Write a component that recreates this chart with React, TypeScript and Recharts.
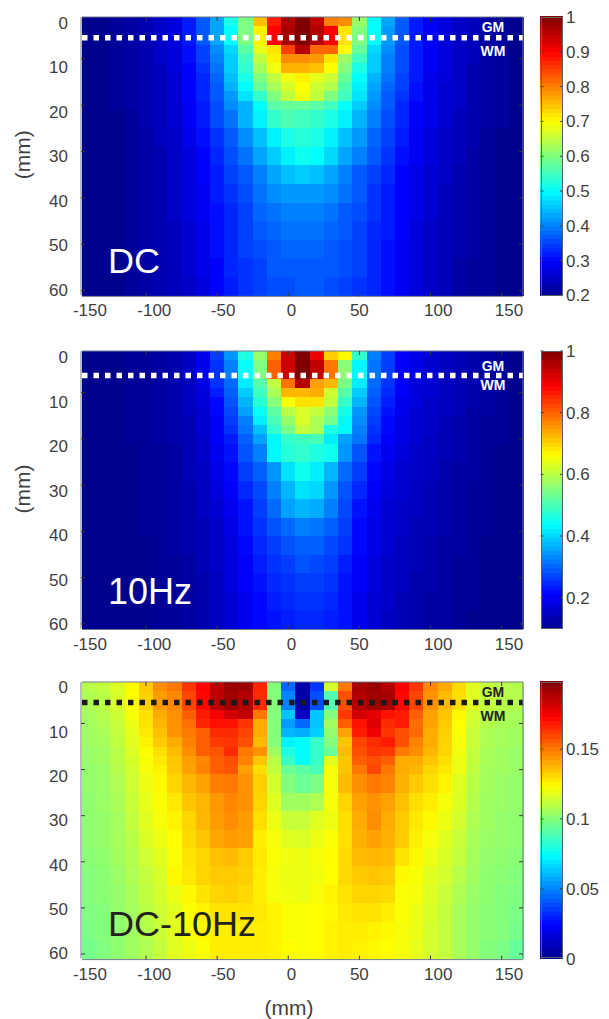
import React from 'react';
import { ScatterChart, Scatter, XAxis, YAxis, ReferenceLine } from 'recharts';

// column centres (mm) and row edges (mm), the image has 10 mm columns
const columns = [-140, -130, -120, -110, -100, -90, -80, -70, -60, -50, -40, -30, -20, -10, 0, 10, 20, 30, 40, 50, 60, 70, 80, 90, 100, 110, 120, 130, 140, 150, 160];
const rowEdges = [1, 3, 7, 9, 11, 13, 15, 17, 19, 21, 25, 29, 33, 37, 41, 45, 49, 53, 57, 61];

const xMarks = [-100, -50, 0, 50, 100, 150];
const yMarks = [10, 20, 30, 40, 50, 60];
const xLabels = [-150, -100, -50, 0, 50, 100, 150];
const yLabels = [0, 10, 20, 30, 40, 50, 60];

const dcValues = [
  [.2,.2,.21,.22,.23,.25,.27,.32,.37,.43,.52,.6,.75,.88,.96,1,.95,.8,.79,.62,.5,.43,.37,.32,.29,.27,.25,.24,.22,.21,.2],
  [.2,.2,.21,.22,.23,.25,.27,.32,.37,.43,.5,.6,.71,.9,.97,1,.96,.9,.72,.6,.5,.42,.37,.32,.29,.27,.25,.24,.22,.21,.2],
  [.2,.2,.21,.22,.23,.25,.27,.31,.35,.41,.47,.57,.68,.72,.85,.96,.82,.82,.7,.58,.47,.41,.36,.32,.29,.27,.25,.24,.22,.21,.2],
  [.2,.2,.21,.22,.23,.25,.27,.31,.35,.4,.46,.55,.65,.71,.79,.79,.78,.72,.62,.55,.46,.4,.36,.32,.29,.27,.25,.24,.22,.21,.2],
  [.2,.2,.21,.22,.23,.24,.27,.3,.34,.39,.46,.54,.63,.69,.76,.76,.75,.7,.6,.52,.46,.4,.36,.32,.29,.27,.25,.23,.22,.21,.2],
  [.2,.2,.21,.22,.23,.24,.26,.3,.33,.38,.45,.52,.6,.65,.69,.71,.68,.66,.58,.5,.44,.39,.35,.32,.28,.27,.25,.23,.22,.21,.2],
  [.2,.2,.21,.22,.23,.24,.26,.3,.33,.37,.44,.5,.58,.63,.67,.7,.66,.64,.56,.49,.43,.38,.35,.31,.28,.26,.25,.23,.22,.21,.2],
  [.2,.2,.21,.22,.23,.24,.26,.3,.33,.37,.42,.48,.54,.6,.65,.69,.65,.6,.55,.48,.42,.37,.34,.31,.28,.26,.25,.23,.22,.21,.2],
  [.2,.2,.21,.22,.23,.24,.26,.29,.32,.36,.41,.44,.5,.57,.58,.58,.57,.55,.5,.46,.41,.37,.33,.3,.28,.26,.25,.23,.22,.21,.2],
  [.2,.2,.2,.21,.23,.24,.26,.29,.32,.36,.39,.44,.49,.54,.56,.55,.54,.52,.49,.44,.4,.36,.33,.3,.28,.26,.24,.23,.22,.21,.2],
  [.2,.2,.2,.21,.22,.24,.25,.28,.31,.34,.37,.41,.45,.49,.52,.53,.52,.49,.45,.42,.38,.35,.32,.29,.27,.25,.24,.23,.21,.2,.2],
  [.2,.2,.2,.21,.22,.23,.25,.27,.3,.33,.36,.39,.43,.46,.49,.51,.5,.47,.43,.4,.37,.34,.31,.29,.27,.25,.24,.22,.21,.2,.2],
  [.2,.2,.2,.21,.22,.23,.25,.27,.3,.32,.35,.37,.4,.43,.45,.46,.45,.43,.4,.37,.35,.33,.3,.28,.26,.25,.23,.22,.21,.2,.2],
  [.2,.2,.2,.21,.22,.23,.25,.27,.29,.32,.34,.36,.39,.41,.42,.42,.42,.41,.39,.37,.34,.32,.3,.28,.26,.24,.23,.22,.21,.2,.2],
  [.2,.2,.2,.21,.22,.23,.25,.27,.29,.31,.33,.35,.38,.39,.4,.4,.4,.39,.37,.36,.34,.32,.3,.28,.26,.24,.23,.22,.21,.2,.2],
  [.2,.2,.2,.21,.22,.23,.24,.26,.28,.31,.33,.35,.37,.38,.39,.39,.39,.38,.37,.35,.33,.32,.3,.27,.25,.24,.23,.22,.21,.2,.2],
  [.2,.2,.2,.21,.22,.23,.24,.26,.28,.31,.33,.35,.36,.37,.38,.38,.38,.37,.36,.35,.33,.31,.29,.27,.25,.24,.23,.22,.21,.2,.2],
  [.2,.2,.2,.21,.22,.23,.24,.26,.28,.3,.33,.34,.35,.37,.37,.37,.37,.37,.36,.35,.33,.31,.29,.27,.25,.24,.22,.21,.21,.2,.2],
  [.2,.2,.2,.21,.22,.23,.24,.25,.27,.3,.32,.34,.35,.36,.36,.37,.37,.36,.35,.34,.33,.31,.29,.27,.25,.24,.22,.21,.21,.2,.2],
];

const tenHzValues = [
  [.08,.08,.08,.09,.09,.1,.11,.13,.18,.25,.33,.45,.56,.77,.93,1,.9,.7,.66,.47,.31,.25,.19,.17,.15,.13,.12,.11,.1,.09,.08],
  [.08,.08,.08,.09,.09,.1,.11,.13,.18,.24,.31,.43,.54,.8,.93,1,.94,.78,.55,.42,.3,.25,.19,.17,.15,.13,.12,.11,.1,.09,.08],
  [.08,.08,.08,.09,.09,.1,.11,.13,.17,.24,.29,.41,.5,.6,.78,.95,.74,.72,.53,.41,.29,.24,.19,.16,.15,.13,.12,.11,.1,.09,.08],
  [.08,.08,.08,.09,.09,.1,.11,.13,.16,.22,.28,.38,.48,.58,.72,.72,.73,.61,.5,.38,.28,.23,.19,.16,.15,.13,.12,.11,.1,.09,.08],
  [.08,.08,.08,.09,.09,.1,.11,.13,.16,.2,.27,.36,.46,.55,.65,.68,.68,.6,.47,.36,.27,.22,.18,.16,.14,.13,.12,.11,.1,.09,.08],
  [.08,.08,.08,.09,.09,.1,.11,.13,.15,.2,.26,.34,.43,.51,.59,.62,.6,.55,.44,.33,.26,.21,.18,.15,.14,.13,.12,.1,.1,.09,.08],
  [.08,.08,.08,.09,.09,.1,.11,.12,.15,.19,.25,.31,.41,.49,.56,.62,.58,.53,.42,.32,.25,.2,.17,.15,.14,.12,.11,.1,.09,.09,.08],
  [.08,.08,.08,.09,.09,.1,.11,.12,.15,.19,.24,.3,.37,.47,.53,.6,.58,.45,.42,.31,.24,.2,.17,.15,.14,.12,.11,.1,.09,.09,.08],
  [.08,.08,.08,.09,.09,.1,.11,.12,.14,.19,.22,.28,.34,.42,.47,.48,.49,.41,.34,.3,.23,.19,.17,.15,.13,.12,.11,.1,.09,.09,.08],
  [.08,.08,.08,.08,.09,.09,.1,.12,.14,.18,.21,.27,.31,.42,.46,.47,.45,.44,.33,.27,.21,.18,.16,.14,.13,.12,.11,.1,.09,.08,.08],
  [.08,.08,.08,.08,.09,.09,.1,.12,.13,.17,.2,.25,.28,.33,.4,.44,.41,.36,.29,.25,.2,.17,.15,.14,.13,.11,.1,.1,.09,.08,.08],
  [.08,.08,.08,.08,.09,.09,.1,.11,.13,.16,.19,.23,.26,.31,.36,.4,.39,.33,.27,.23,.19,.16,.15,.13,.12,.11,.1,.09,.09,.08,.08],
  [.08,.08,.08,.08,.09,.09,.1,.11,.13,.15,.18,.21,.25,.29,.34,.36,.35,.31,.26,.21,.18,.15,.14,.13,.12,.11,.1,.09,.09,.08,.08],
  [.08,.08,.08,.08,.09,.09,.1,.11,.12,.14,.17,.21,.24,.27,.29,.31,.3,.28,.25,.2,.17,.15,.14,.12,.12,.11,.1,.09,.09,.08,.08],
  [.08,.08,.08,.08,.08,.09,.1,.11,.12,.14,.16,.2,.23,.25,.27,.28,.28,.26,.24,.2,.17,.15,.13,.12,.11,.1,.1,.09,.08,.08,.08],
  [.08,.08,.08,.08,.08,.09,.09,.1,.12,.14,.16,.19,.22,.24,.25,.27,.26,.25,.22,.19,.16,.14,.13,.12,.11,.1,.09,.09,.08,.08,.08],
  [.08,.08,.08,.08,.08,.09,.09,.1,.11,.13,.16,.19,.21,.23,.24,.25,.25,.24,.21,.19,.16,.14,.13,.11,.11,.1,.09,.09,.08,.08,.08],
  [.08,.08,.08,.08,.08,.09,.09,.1,.11,.13,.15,.18,.2,.22,.23,.24,.24,.23,.21,.18,.15,.14,.12,.11,.1,.1,.09,.09,.08,.08,.08],
  [.08,.08,.08,.08,.08,.09,.09,.1,.11,.13,.15,.18,.2,.21,.22,.23,.23,.22,.21,.18,.15,.13,.12,.11,.1,.1,.09,.08,.08,.08,.08],
];

const diffValues = [
  [.11,.112,.117,.125,.134,.146,.15,.163,.173,.186,.193,.192,.166,.1,.045,.006,.035,.115,.15,.19,.193,.188,.174,.163,.147,.14,.131,.118,.112,.11,.109],
  [.108,.11,.116,.124,.133,.143,.147,.16,.172,.186,.192,.188,.165,.1,.05,.006,.04,.09,.158,.188,.192,.19,.172,.16,.145,.137,.13,.118,.112,.11,.109],
  [.107,.109,.114,.122,.13,.14,.145,.155,.168,.175,.182,.185,.15,.1,.063,.012,.063,.1,.162,.182,.178,.17,.168,.155,.142,.135,.125,.115,.11,.108,.107],
  [.106,.108,.113,.12,.129,.138,.145,.152,.166,.17,.17,.163,.14,.1,.055,.045,.063,.105,.155,.17,.18,.165,.168,.152,.142,.134,.124,.114,.109,.107,.106],
  [.105,.107,.112,.119,.128,.136,.145,.15,.155,.165,.165,.16,.14,.1,.06,.058,.065,.103,.142,.168,.176,.163,.158,.153,.14,.133,.123,.113,.108,.106,.105],
  [.105,.106,.111,.118,.126,.134,.14,.148,.155,.162,.163,.158,.137,.1,.072,.074,.085,.1,.135,.16,.165,.168,.158,.148,.14,.132,.122,.113,.108,.106,.105],
  [.104,.105,.11,.117,.124,.13,.137,.146,.155,.157,.165,.15,.145,.105,.08,.074,.085,.095,.137,.158,.163,.162,.15,.146,.138,.132,.121,.112,.107,.105,.104],
  [.104,.105,.11,.116,.123,.128,.135,.143,.147,.155,.158,.148,.135,.11,.085,.074,.085,.118,.135,.155,.158,.155,.14,.14,.135,.13,.12,.112,.107,.105,.104],
  [.103,.104,.109,.115,.122,.126,.134,.142,.148,.155,.157,.142,.13,.112,.095,.092,.088,.122,.135,.15,.16,.15,.14,.138,.132,.128,.12,.111,.106,.105,.104],
  [.103,.104,.108,.114,.12,.125,.132,.138,.142,.149,.15,.145,.133,.115,.1,.095,.098,.122,.137,.146,.15,.148,.139,.134,.13,.126,.118,.11,.106,.104,.103],
  [.102,.104,.107,.113,.119,.123,.128,.135,.138,.144,.147,.145,.132,.118,.105,.105,.108,.122,.132,.142,.145,.142,.136,.13,.127,.122,.117,.109,.105,.104,.103],
  [.102,.103,.106,.112,.118,.122,.126,.132,.138,.143,.146,.143,.13,.12,.113,.113,.118,.12,.13,.14,.146,.14,.134,.128,.125,.12,.115,.108,.105,.103,.102],
  [.102,.103,.106,.11,.116,.12,.124,.131,.135,.141,.143,.142,.127,.122,.118,.117,.12,.123,.13,.139,.142,.139,.134,.127,.122,.118,.113,.107,.104,.103,.102],
  [.101,.102,.105,.109,.114,.118,.123,.129,.132,.136,.137,.134,.128,.123,.121,.12,.122,.124,.131,.137,.138,.137,.129,.125,.12,.116,.112,.106,.103,.102,.101],
  [.1,.101,.104,.108,.112,.116,.125,.128,.132,.134,.134,.133,.127,.122,.12,.12,.121,.124,.131,.134,.135,.134,.125,.123,.118,.115,.11,.105,.102,.101,.1],
  [.1,.101,.103,.107,.111,.115,.12,.125,.129,.132,.133,.131,.127,.122,.121,.12,.122,.126,.129,.132,.132,.131,.123,.122,.117,.113,.108,.104,.102,.1,.099],
  [.099,.1,.103,.106,.11,.114,.118,.123,.126,.129,.129,.129,.128,.126,.123,.123,.124,.125,.128,.129,.129,.127,.123,.12,.116,.112,.107,.103,.101,.1,.098],
  [.098,.1,.102,.105,.109,.113,.118,.122,.125,.127,.127,.127,.127,.126,.123,.123,.124,.126,.127,.127,.126,.125,.122,.12,.115,.112,.107,.103,.101,.1,.097],
  [.097,.099,.102,.105,.108,.112,.118,.12,.123,.127,.127,.127,.127,.126,.124,.123,.124,.126,.127,.126,.125,.124,.122,.119,.115,.112,.107,.103,.1,.098,.094],
];

const dcBarTicks = [0.2, 0.3, 0.4, 0.5, 0.6, 0.7, 0.8, 0.9, 1];
const tenHzBarTicks = [0.2, 0.4, 0.6, 0.8, 1];
const diffBarTicks = [0, 0.05, 0.1, 0.15];

const jetStops = ['#00008f', '#0000ff', '#0080ff', '#00ffff', '#80ff80', '#ffff00', '#ff8000', '#ff0000', '#800000'];

const FONT = '"Liberation Sans", Arial, sans-serif';
const TEXT = '#404040';
const CHART_W = 609;
const PLOT_LEFT = 82;
const PLOT_RIGHT = 523;
const BAR_LEFT = 540.5;
const BAR_RIGHT = 563;
const DEPTH_DOMAIN: [number, number] = [1, 61];
const X_DOMAIN: [number, number] = [-145, 165];
const BAR_STEPS = 64;
// only there so the overlay axes have something to scale against
const plotCorners = [{ x: -100, y: 10 }, { x: 100, y: 60 }];

// the labels of the original are placed by hand, they do not sit on the ticks
const xLabelNudge: Record<number, number> = { '-150': 0, '-100': -5.5, '-50': -6.5, '0': -8, '50': -10, '100': -1, '150': 0 };

function jet(t: number) {
  const p = Math.min(Math.max(t, 0), 1) * (jetStops.length - 1);
  const i = Math.min(Math.floor(p), jetStops.length - 2);
  const f = p - i;
  const hex = (s: string, k: number) => parseInt(s.slice(1 + k * 2, 3 + k * 2), 16);
  const ch = [0, 1, 2].map((k) => Math.round(hex(jetStops[i], k) * (1 - f) + hex(jetStops[i + 1], k) * f));
  return `rgb(${ch[0]},${ch[1]},${ch[2]})`;
}

function buildCells(values: number[][]) {
  const cells: any[] = [];
  values.forEach((row, r) => {
    row.forEach((value, c) => {
      cells.push({
        x: columns[c],
        y: (rowEdges[r] + rowEdges[r + 1]) / 2,
        span: rowEdges[r + 1] - rowEdges[r],
        value,
      });
    });
  });
  return cells;
}

interface PanelProps {
  top: number;
  bottom: number;
  values: number[][];
  cellRange: [number, number];
  barRange: [number, number];
  barTicks: number[];
  labelDomain: [number, number];
  lineDepth: number;
  lineColor: string;
  name: string;
  nameColor: string;
  nameBaseline: number;
  gmY: number;
  wmY: number;
  yTitle?: number;
}

const Panel = (p: PanelProps) => {
  const pad = 14;
  const low = 34;
  const plotH = p.bottom - p.top;
  const height = plotH + pad + low;
  const cellW = (PLOT_RIGHT - PLOT_LEFT) / columns.length;
  const pxPerMm = plotH / 60;
  const barW = BAR_RIGHT - BAR_LEFT;
  const rampH = plotH / BAR_STEPS;
  const markColor = '#3a3a3a';
  const frame = { stroke: '#6f7a8c', strokeWidth: 1 };

  const cellMargin = { top: pad, bottom: low, left: PLOT_LEFT, right: CHART_W - PLOT_RIGHT };
  // every visible axis takes 1px of the margin
  const overlayMargin = { top: pad - 1, bottom: low - 2, left: PLOT_LEFT - 2, right: CHART_W - PLOT_RIGHT - 1 };
  const rampMargin = { top: pad, bottom: low, left: BAR_LEFT, right: CHART_W - BAR_RIGHT };
  const barOverlayMargin = { top: pad, bottom: low, left: BAR_LEFT, right: CHART_W - BAR_RIGHT - 1 };

  const ramp: any[] = [];
  for (let i = 0; i < BAR_STEPS; i++) {
    const t = (i + 0.5) / BAR_STEPS;
    ramp.push({ x: 0.5, y: p.barRange[0] + t * (p.barRange[1] - p.barRange[0]), t });
  }

  const cellShape = (s: any) => {
    const h = s.payload.span * pxPerMm;
    const fill = jet((s.payload.value - p.cellRange[0]) / (p.cellRange[1] - p.cellRange[0]));
    return <rect x={s.cx - cellW / 2} y={s.cy - h / 2} width={cellW + 0.6} height={h + 0.6} fill={fill} shapeRendering="crispEdges" />;
  };
  const rampShape = (s: any) => (
    <rect x={BAR_LEFT} y={s.cy - rampH / 2 - 0.5} width={barW} height={rampH + 1} fill={jet(s.payload.t)} shapeRendering="crispEdges" />
  );
  const nothing = () => null;

  const markBottom = (t: any) => <line x1={t.x} x2={t.x} y1={t.y} y2={t.y - 4} stroke={markColor} />;
  const markTop = (t: any) => <line x1={t.x} x2={t.x} y1={t.y} y2={t.y + 4} stroke={markColor} />;
  const markLeft = (t: any) => <line x1={t.x} x2={t.x + 4} y1={t.y} y2={t.y} stroke={markColor} />;
  const markRight = (t: any) => <line x1={t.x} x2={t.x - 4} y1={t.y} y2={t.y} stroke={markColor} />;

  const xLabel = (t: any) => (
    <text x={t.x + (xLabelNudge[t.payload.value] || 0)} y={t.y + 21} textAnchor="middle" fontFamily={FONT} fontSize={17} fill={TEXT}>
      {t.payload.value}
    </text>
  );
  const yLabel = (t: any) => (
    <text x={68} y={t.y + 6} textAnchor="end" fontFamily={FONT} fontSize={17} fill={TEXT}>
      {t.payload.value}
    </text>
  );
  const barLabel = (t: any) => (
    <g>
      <line x1={t.x} x2={t.x - 3} y1={t.y} y2={t.y} stroke={markColor} />
      <line x1={BAR_LEFT} x2={BAR_LEFT + 3} y1={t.y} y2={t.y} stroke={markColor} />
      <text x={t.x + 3} y={t.y + 6} fontFamily={FONT} fontSize={17} fill={TEXT}>
        {t.payload.value}
      </text>
    </g>
  );

  const wrap: React.CSSProperties = { position: 'absolute', left: 0, top: p.top - pad };
  const soft: React.CSSProperties = { ...wrap, filter: 'blur(0.6px)' };

  return (
    <>
      <div style={soft}>
        <ScatterChart width={CHART_W} height={height} margin={cellMargin}>
          <XAxis dataKey="x" type="number" domain={X_DOMAIN} hide />
          <YAxis dataKey="y" type="number" reversed domain={DEPTH_DOMAIN} hide />
          <Scatter data={buildCells(p.values)} shape={cellShape} isAnimationActive={false} />
        </ScatterChart>
      </div>
      <div style={soft}>
        <ScatterChart width={CHART_W} height={height} margin={rampMargin}>
          <XAxis dataKey="x" type="number" domain={[0, 1]} hide />
          <YAxis dataKey="y" type="number" domain={p.barRange} hide />
          <Scatter data={ramp} shape={rampShape} isAnimationActive={false} />
        </ScatterChart>
      </div>
      <div style={wrap}>
        <ScatterChart width={CHART_W} height={height} margin={overlayMargin}>
          <XAxis xAxisId="marks" dataKey="x" type="number" domain={X_DOMAIN} ticks={xMarks} interval={0} height={1} axisLine={frame} tickLine={false} tickSize={0} tickMargin={0} tick={markBottom} />
          <XAxis xAxisId="top" dataKey="x" orientation="top" type="number" domain={X_DOMAIN} ticks={xMarks} interval={0} height={1} axisLine={frame} tickLine={false} tickSize={0} tickMargin={0} tick={markTop} />
          <XAxis xAxisId="labels" dataKey="x" type="number" domain={[-155.7, 160]} ticks={xLabels} interval={0} height={1} axisLine={false} tickLine={false} tickSize={0} tickMargin={0} tick={xLabel} />
          <YAxis yAxisId="marks" dataKey="y" type="number" reversed domain={DEPTH_DOMAIN} ticks={yMarks} interval={0} width={1} axisLine={frame} tickLine={false} tickSize={0} tickMargin={0} tick={markLeft} />
          <YAxis yAxisId="right" dataKey="y" orientation="right" type="number" reversed domain={DEPTH_DOMAIN} ticks={yMarks} interval={0} width={1} axisLine={frame} tickLine={false} tickSize={0} tickMargin={0} tick={markRight} />
          <YAxis yAxisId="labels" dataKey="y" type="number" reversed domain={p.labelDomain} ticks={yLabels} interval={0} width={1} axisLine={false} tickLine={false} tickSize={0} tickMargin={0} tick={yLabel} />
          <Scatter xAxisId="marks" yAxisId="marks" data={plotCorners} shape={nothing} isAnimationActive={false} />
          <Scatter xAxisId="top" yAxisId="right" data={plotCorners} shape={nothing} isAnimationActive={false} />
          <Scatter xAxisId="labels" yAxisId="labels" data={plotCorners} shape={nothing} isAnimationActive={false} />
          <ReferenceLine xAxisId="marks" yAxisId="marks" y={p.lineDepth} stroke={p.lineColor} strokeWidth={5.5} strokeDasharray="5.5 6" />
          <text x={493} y={p.gmY - p.top + pad + 5} textAnchor="middle" fontFamily={FONT} fontSize={14} fontWeight="bold" fill={p.nameColor}>GM</text>
          <text x={493} y={p.wmY - p.top + pad + 5} textAnchor="middle" fontFamily={FONT} fontSize={14} fontWeight="bold" fill={p.nameColor}>WM</text>
          <text x={108} y={p.nameBaseline - p.top + pad} fontFamily={FONT} fontSize={36} fill={p.nameColor}>{p.name}</text>
          {p.yTitle !== undefined && (
            <text transform={`translate(30 ${p.yTitle - p.top + pad}) rotate(-90)`} textAnchor="middle" fontFamily={FONT} fontSize={21} fill={TEXT}>(mm)</text>
          )}
        </ScatterChart>
      </div>
      <div style={wrap}>
        <ScatterChart width={CHART_W} height={height} margin={barOverlayMargin}>
          <XAxis dataKey="x" type="number" domain={[0, 1]} hide />
          <YAxis dataKey="y" orientation="right" type="number" domain={p.barRange} ticks={p.barTicks} interval={0} width={1} axisLine={false} tickLine={false} tickSize={0} tickMargin={0} tick={barLabel} />
          <Scatter data={[{ x: 0, y: p.barRange[0] }, { x: 1, y: p.barRange[1] }]} shape={nothing} isAnimationActive={false} />
        </ScatterChart>
      </div>
      <div style={{ position: 'absolute', left: BAR_LEFT, top: p.top, width: barW, height: plotH, border: '1px solid #5a5f6e', boxSizing: 'border-box' }} />
    </>
  );
};

const App = () => (
  <div style={{ position: 'absolute', left: 0, top: 0, width: 609, height: 1019, background: '#fff', overflow: 'hidden' }}>
    <Panel top={17.3} bottom={295.7} values={dcValues} cellRange={[0.2, 1]} barRange={[0.2, 1]} barTicks={dcBarTicks} labelDomain={[-1.28, 61.28]} lineDepth={5.46} lineColor="#ffffff" name="DC" nameColor="#ffffff" nameBaseline={273} gmY={27} wmY={51.6} yTitle={155} />
    <Panel top={351} bottom={628.5} values={tenHzValues} cellRange={[0.08, 1]} barRange={[0.1, 1]} barTicks={tenHzBarTicks} labelDomain={[-1.35, 61]} lineDepth={6.3} lineColor="#ffffff" name="10Hz" nameColor="#ffffff" nameBaseline={604} gmY={366} wmY={385} yTitle={489} />
    <Panel top={681.7} bottom={958.3} values={diffValues} cellRange={[0, 0.198]} barRange={[0, 0.198]} barTicks={diffBarTicks} labelDomain={[-1.19, 61.2]} lineDepth={5.47} lineColor="#1a1a1a" name="DC-10Hz" nameColor="#222222" nameBaseline={936} gmY={692} wmY={716} />
    <svg width={609} height={1019} style={{ position: 'absolute', left: 0, top: 0, pointerEvents: 'none' }}>
      <text x={289} y={1015} textAnchor="middle" fontFamily={FONT} fontSize={21} fill={TEXT}>(mm)</text>
    </svg>
  </div>
);

export default App;
